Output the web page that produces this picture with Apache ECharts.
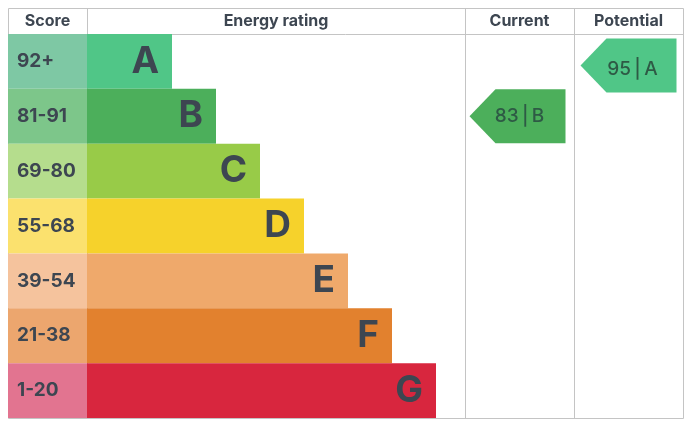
<!DOCTYPE html>
<html><head><meta charset="utf-8">
<script src="https://cdn.jsdelivr.net/npm/echarts@6/dist/echarts.min.js"></script>
<style>html,body{margin:0;padding:0;background:#fff}#c{width:687px;height:427px}</style>
</head><body><div id="c"></div>
<script>
const bands = ['A','B','C','D','E','F','G'];
const scoreRanges = ['92+','81-91','69-80','55-68','39-54','21-38','1-20'];
const barLengths = [85,129,173,217,261,305,349];
const bandColors = ['#50c687','#4caf5b','#98cb48','#f6d22b','#efa96b','#e2812e','#d8263e'];
const scoreColors = ['#7ec8a4','#7dc68a','#b5dd8d','#fbe16e','#f5c39d','#eca66e','#e27490'];
const columnTitles = ['Score','Energy rating','Current','Potential'];
const currentScore = [83];
const currentBand = ['B'];
const potentialScore = [95];
const potentialBand = ['A'];

const FONT = 'Inter';
const TXT = '#3d4651';
const LINE = '#c4c4c4';
const L = 8, R = 683, T = 8, HB = 34, B = 418;
const cols = [8, 87, 465, 574, 683];

const grids = [];
const xAxes = [];
const yAxes = [];
for (let i = 0; i < 4; i++) {
  grids.push({left: cols[i], width: cols[i+1]-cols[i], top: HB, height: B-HB, containLabel:false});
  xAxes.push({
    gridIndex: i, type: 'value', position: 'top', min: 0, max: i === 1 ? 378 : 1,
    name: columnTitles[i], nameLocation: 'middle', nameGap: 5,
    nameTextStyle: {fontFamily: FONT, fontWeight: 700, fontSize: 16, color: TXT},
    axisLine: {show:false}, axisTick:{show:false}, axisLabel:{show:false}, splitLine:{show:false}
  });
  yAxes.push({
    gridIndex: i, type: 'category', data: bands, inverse: true,
    axisLine:{show:false}, axisTick:{show:false}, axisLabel:{show:false}, splitLine:{show:false}
  });
}

const arrowPath = 'path://M0,27 L26,0 L96,0 L96,54 L26,54 Z';

function arrowSeries(idx, scores, bandsArr, offset) {
  return {
    type: 'scatter', xAxisIndex: idx, yAxisIndex: idx, z: 5,
    symbol: arrowPath, symbolSize: [96, 54], symbolOffset: offset, symbolKeepAspect: false,
    data: scores.map((s, k) => ({
      value: [0.5, bandsArr[k]], score: s, band: bandsArr[k],
      itemStyle: {color: bandColors[bands.indexOf(bandsArr[k])], opacity: 1}
    })),
    label: {
      show: true, position: 'inside', offset: [offset[0] + 4, offset[1]],
      formatter: p => p.data.score + '\u2009|\u2009' + p.data.band,
      fontFamily: FONT, fontSize: 19, fontWeight: 500, color: '#2e5a45'
    },
    emphasis: {disabled: true}, silent: true
  };
}

const chart = echarts.init(document.getElementById('c'), null, {renderer: 'canvas'});
chart.setOption({
  animation: false,
  backgroundColor: '#fff',
  grid: grids, xAxis: xAxes, yAxis: yAxes,
  graphic: [
    {type:'rect', z: 0, shape:{x:L+0.5, y:T+0.5, width:R-L, height:B-T}, style:{fill:null, stroke:LINE, lineWidth:1}},
    {type:'line', z: 0, shape:{x1:L, y1:HB+0.5, x2:R, y2:HB+0.5}, style:{stroke:LINE, lineWidth:1}},
    {type:'line', z: 0, shape:{x1:cols[1]+0.5, y1:T, x2:cols[1]+0.5, y2:B}, style:{stroke:LINE, lineWidth:1}},
    {type:'line', z: 0, shape:{x1:cols[2]+0.5, y1:T, x2:cols[2]+0.5, y2:B}, style:{stroke:LINE, lineWidth:1}},
    {type:'line', z: 0, shape:{x1:cols[3]+0.5, y1:T, x2:cols[3]+0.5, y2:B}, style:{stroke:LINE, lineWidth:1}}
  ],
  series: [
    {
      type: 'bar', xAxisIndex: 0, yAxisIndex: 0, barWidth: '100%', barCategoryGap: 0, z: 3,
      data: scoreRanges.map((s, k) => ({value: 1, name: s, itemStyle: {color: scoreColors[k]}})),
      label: {show: true, position: 'insideLeft', distance: 9, formatter: p => p.name,
        fontFamily: FONT, fontWeight: 700, fontSize: 19, color: TXT},
      silent: true
    },
    {
      type: 'bar', xAxisIndex: 1, yAxisIndex: 1, barWidth: '100%', barCategoryGap: 0, z: 3,
      data: barLengths.map((v, k) => ({value: v, itemStyle: {color: bandColors[k]}})),
      label: {show: true, position: 'insideRight', distance: 13, formatter: p => bands[p.dataIndex],
        fontFamily: FONT, fontWeight: 700, fontSize: 37, color: TXT},
      silent: true
    },
    arrowSeries(2, currentScore, currentBand, [-2, 0]),
    arrowSeries(3, potentialScore, potentialBand, [0, 4])
  ]
});
</script></body></html>
